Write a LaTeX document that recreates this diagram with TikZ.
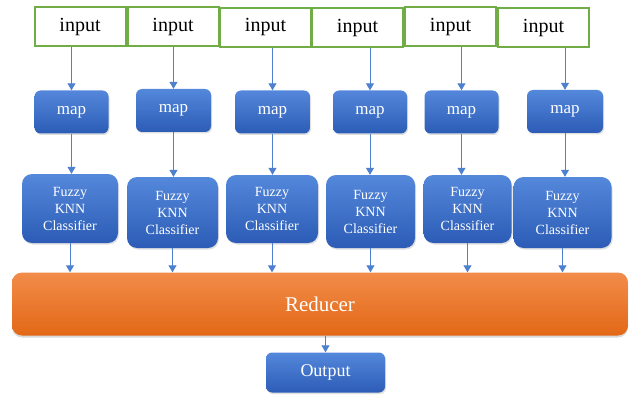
\documentclass[tikz,border=0pt]{standalone}
\usepackage{fontspec}
\setmainfont{Liberation Serif}
\usepackage{tikz}
\usetikzlibrary{positioning}
\usetikzlibrary{arrows.meta}
\usetikzlibrary{shadows}

\definecolor{inputgreen}{RGB}{112,173,71}
\definecolor{bluetop}{RGB}{84,136,219}
\definecolor{bluebot}{RGB}{44,92,182}
\definecolor{orangetop}{RGB}{242,140,74}
\definecolor{orangebot}{RGB}{226,104,22}
\definecolor{arrowblue}{RGB}{78,128,208}

\begin{document}
\begin{tikzpicture}
        [x=1pt,y=-1pt,
         inputbox/.style={draw=inputgreen,line width=2pt,fill=white,inner sep=0pt,
           minimum width=91pt,minimum height=39pt,font=\fontsize{20}{22}\selectfont},
         bluebox/.style={rounded corners=6pt,top color=bluetop,bottom color=bluebot,
           draw=none,inner sep=0pt,text=white,
           drop shadow={opacity=0.25,shadow xshift=1pt,shadow yshift=-1.5pt}},
         mapbox/.style={bluebox,minimum width=74pt,minimum height=43pt,
           font=\fontsize{17}{19}\selectfont},
         knnbox/.style={bluebox,rounded corners=10pt,align=center,
           font=\fontsize{14}{17}\selectfont},
         reducerbox/.style={rounded corners=10pt,top color=orangetop,bottom color=orangebot,
           draw=none,inner sep=0pt,text=white,minimum width=616pt,minimum height=63pt,
           font=\fontsize{21}{23}\selectfont,
           drop shadow={opacity=0.3,shadow xshift=0pt,shadow yshift=-2pt}},
         outbox/.style={bluebox,minimum width=119pt,minimum height=40pt,
           font=\fontsize{18}{20}\selectfont},
         link/.style={draw=arrowblue,line width=1pt,-{Triangle[width=8pt,length=7pt]}}]
      \useasboundingbox (0,0) rectangle (630,396);
      % inputs
      \node[inputbox] (I1) at (80,27)    {input};
      \node[inputbox] (I2) at (173,27)   {input};
      \node[inputbox] (I3) at (265.5,27.5) {input};
      \node[inputbox] (I4) at (357.5,28) {input};
      \node[inputbox] (I5) at (450.5,27) {input};
      \node[inputbox] (I6) at (543.5,28) {input};
      % map
      \node[mapbox] (M1) at (71.5,112)  {map};
      \node[mapbox,minimum width=75pt] (M2) at (173.5,110.5) {map};
      \node[mapbox,minimum width=75pt] (M3) at (272.5,112) {map};
      \node[mapbox] (M4) at (370,112)   {map};
      \node[mapbox] (M5) at (461.5,112) {map};
      \node[mapbox,minimum width=76pt] (M6) at (565,111.5) {map};
      % classifiers
      \node[knnbox,minimum width=96pt,minimum height=69pt] (F1) at (70,208.5)    {Fuzzy\\KNN\\Classifier};
      \node[knnbox,minimum width=91pt,minimum height=71pt] (F2) at (172.5,212.5) {Fuzzy\\KNN\\Classifier};
      \node[knnbox,minimum width=92pt,minimum height=68pt] (F3) at (272,209)     {Fuzzy\\KNN\\Classifier};
      \node[knnbox,minimum width=89pt,minimum height=73pt] (F4) at (370.5,211.5) {Fuzzy\\KNN\\Classifier};
      \node[knnbox,minimum width=88pt,minimum height=68pt] (F5) at (467.5,209)   {Fuzzy\\KNN\\Classifier};
      \node[knnbox,minimum width=98pt,minimum height=71pt] (F6) at (562.5,212.5) {Fuzzy\\KNN\\Classifier};
      % reducer and output
      \node[reducerbox] (R) at (320,304) {Reducer};
      \node[outbox] (O) at (325.5,372.5) {Output};
      % connections
      \path [link] (M1.north |- I1.south) -- (M1.north);
      \path [link] (M2.north |- I2.south) -- (M2.north);
      \path [link] (M3.north |- I3.south) -- (M3.north);
      \path [link] (M4.north |- I4.south) -- (M4.north);
      \path [link] (M5.north |- I5.south) -- (M5.north);
      \path [link] (M6.north |- I6.south) -- (M6.north);
      \path [link] (M1.south) -- (M1.south |- F1.north);
      \path [link] (M2.south) -- (M2.south |- F2.north);
      \path [link] (M3.south) -- (M3.south |- F3.north);
      \path [link] (M4.south) -- (M4.south |- F4.north);
      \path [link] (M5.south) -- (M5.south |- F5.north);
      \path [link] (M6.south) -- (M6.south |- F6.north);
      \path [link] (F1.south) -- (F1.south |- R.north);
      \path [link] (F2.south) -- (F2.south |- R.north);
      \path [link] (F3.south) -- (F3.south |- R.north);
      \path [link] (F4.south) -- (F4.south |- R.north);
      \path [link] (F5.south) -- (F5.south |- R.north);
      \path [link] (F6.south) -- (F6.south |- R.north);
      \path [link] (R.south -| O.north) -- (O.north);
\end{tikzpicture}
\end{document}
